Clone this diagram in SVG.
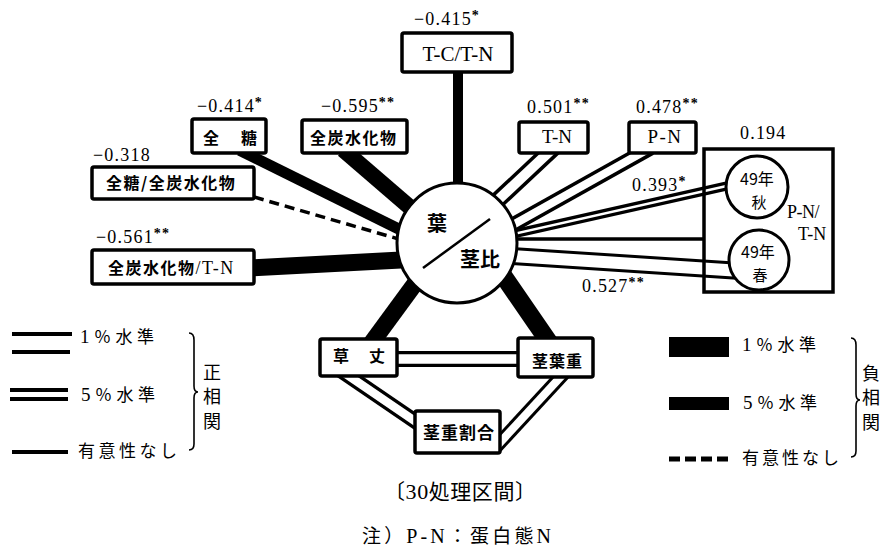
<svg xmlns="http://www.w3.org/2000/svg" width="887" height="549" viewBox="0 0 887 549">
<style>
.bx{fill:#fff;stroke:#000;stroke-width:3.5}
.cr{fill:#fff;stroke:#000;stroke-width:3}
.k{fill:none;stroke:#000}
.w{fill:none;stroke:#fff}
.num{font-family:"Liberation Serif",serif;font-size:18px;letter-spacing:1.2px;fill:#000}
.st{font-size:14px;font-weight:bold}
.jp{font-family:"Noto Sans CJK JP","Noto Sans CJK SC",sans-serif;font-weight:bold;fill:#000}
.jn{font-family:"Noto Sans CJK JP","Noto Sans CJK SC",sans-serif;font-weight:normal;fill:#000}
.lat{font-family:"Liberation Serif",serif;font-weight:normal}
.lg{font-family:"Noto Sans CJK JP","Noto Sans CJK SC",sans-serif;font-size:17px;fill:#000}
.vt{font-family:"Noto Sans CJK JP","Noto Sans CJK SC",sans-serif;font-size:18px;fill:#000;writing-mode:vertical-rl;letter-spacing:6.5px}
.brace{fill:none;stroke:#000;stroke-width:1.6}
</style>
<rect width="887" height="549" fill="#fff"/>

<g id="connectors">
  <!-- negative correlations (solid black) -->
  <line class="k" x1="458" y1="70" x2="458" y2="200" stroke-width="10"/>
  <line class="k" x1="239.6" y1="150.3" x2="415.4" y2="237.2" stroke-width="11"/>
  <line class="k" x1="343.2" y1="149.7" x2="418.9" y2="215" stroke-width="16"/>
  <line class="k" x1="250" y1="268" x2="420" y2="259" stroke-width="17"/>
  <line class="k" x1="254" y1="197" x2="402" y2="240" stroke-width="3.5" stroke-dasharray="10 6"/>
  <line class="k" x1="425" y1="270" x2="370" y2="345" stroke-width="17"/>
  <line class="k" x1="500" y1="271" x2="553" y2="348" stroke-width="18"/>
  <!-- positive correlations -->
  <line class="k" x1="500" y1="239" x2="704" y2="239" stroke-width="3.5"/>
  <line class="k" x1="555.3" y1="146.2" x2="493.3" y2="204.3" stroke-width="17"/>
  <line class="w" x1="555.3" y1="146.2" x2="493.3" y2="204.3" stroke-width="10"/>
  <line class="k" x1="650.2" y1="148.1" x2="510.5" y2="226.2" stroke-width="15"/>
  <line class="w" x1="650.2" y1="148.1" x2="510.5" y2="226.2" stroke-width="8"/>
  <line class="k" x1="500" y1="237" x2="740" y2="183" stroke-width="9"/>
  <line class="w" x1="500" y1="237" x2="740" y2="183" stroke-width="2.5"/>
  <line class="k" x1="500" y1="255.2" x2="745" y2="271.2" stroke-width="18"/>
  <line class="w" x1="500" y1="255.2" x2="745" y2="271.2" stroke-width="12"/>
  <line class="k" x1="390" y1="359" x2="525" y2="359" stroke-width="16"/>
  <line class="w" x1="390" y1="359" x2="525" y2="359" stroke-width="9.5"/>
  <line class="k" x1="340" y1="370" x2="425" y2="428" stroke-width="15"/>
  <line class="w" x1="340" y1="370" x2="425" y2="428" stroke-width="8.5"/>
  <line class="k" x1="567" y1="370" x2="495" y2="448" stroke-width="14"/>
  <line class="w" x1="567" y1="370" x2="495" y2="448" stroke-width="8"/>
</g>

<g id="n-tctn">
  <rect class="bx" x="402" y="33" width="110" height="39" rx="2"/>
  <text class="lat" x="458" y="61" font-size="21" text-anchor="middle">T-C/T-N</text>
  <text class="num" x="414" y="25">−0.415<tspan class="st" dy="-5">*</tspan></text>
</g>

<g id="n-zento">
  <rect class="bx" x="192" y="119" width="74" height="34" rx="2"/>
  <text class="jp" x="203" y="144" font-size="16" letter-spacing="3">全　糖</text>
  <text class="num" x="197" y="112">−0.414<tspan class="st" dy="-5">*</tspan></text>
</g>

<g id="n-zentan">
  <rect class="bx" x="302" y="120" width="105" height="33" rx="2"/>
  <text class="jp" x="310" y="144" font-size="16" letter-spacing="1.5">全炭水化物</text>
  <text class="num" x="321" y="112">−0.595<tspan class="st" dy="-5">**</tspan></text>
</g>

<g id="n-ratio1">
  <rect class="bx" x="92" y="167" width="162" height="32" rx="2"/>
  <text class="jp" x="106" y="189" font-size="16" letter-spacing="1.5">全糖/全炭水化物</text>
  <text class="num" x="93" y="161">−0.318</text>
</g>

<g id="n-ratio2">
  <rect class="bx" x="92" y="250" width="162" height="34" rx="2"/>
  <text class="jp" x="108" y="274" font-size="16" letter-spacing="1.5">全炭水化物<tspan class="lat" font-size="18">/T-N</tspan></text>
  <text class="num" x="96" y="243">−0.561<tspan class="st" dy="-5">**</tspan></text>
</g>

<g id="n-tn">
  <rect class="bx" x="519" y="122" width="69" height="31" rx="2"/>
  <text class="lat" x="557" y="143" font-size="19" text-anchor="middle">T-N</text>
  <text class="num" x="527" y="113">0.501<tspan class="st" dy="-5">**</tspan></text>
</g>

<g id="n-pn">
  <rect class="bx" x="629" y="122" width="67" height="31" rx="2"/>
  <text class="lat" x="665" y="143" font-size="19" text-anchor="middle" letter-spacing="1.5">P-N</text>
  <text class="num" x="636" y="113">0.478<tspan class="st" dy="-5">**</tspan></text>
</g>

<g id="n-pntn">
  <rect x="704" y="149" width="129" height="143" fill="none" stroke="#000" stroke-width="3.5"/>
  <text class="num" x="740" y="139">0.194</text>
  <text class="lat" font-size="18"><tspan x="787" y="218" letter-spacing="-0.5">P-N/</tspan><tspan x="798" y="240">T-N</tspan></text>
  <text class="num" x="632" y="191">0.393<tspan class="st" dy="-5">*</tspan></text>
  <text class="num" x="582" y="292">0.527<tspan class="st" dy="-5">**</tspan></text>
</g>

<g id="n-aki">
  <circle class="cr" cx="757" cy="187" r="31"/>
  <text class="jn" x="757" y="185" font-size="16" text-anchor="middle">49年</text>
  <text class="jn" x="759" y="208" font-size="15" text-anchor="middle">秋</text>
</g>

<g id="n-haru">
  <circle class="cr" cx="759" cy="260" r="30"/>
  <text class="jn" x="758" y="258" font-size="16" text-anchor="middle">49年</text>
  <text class="jn" x="760" y="281" font-size="15" text-anchor="middle">春</text>
</g>

<g id="n-center">
  <circle class="cr" cx="457" cy="243" r="60"/>
  <line x1="423" y1="268" x2="490" y2="219" stroke="#000" stroke-width="2.5"/>
  <text class="jp" x="437" y="231" font-size="20" text-anchor="middle">葉</text>
  <text class="jp" x="480" y="267" font-size="20" text-anchor="middle">茎比</text>
</g>

<g id="n-soujou">
  <rect class="bx" x="320" y="339" width="77" height="37" rx="2"/>
  <text class="jp" x="333" y="362" font-size="16" letter-spacing="2">草　丈</text>
</g>

<g id="n-keiyoju">
  <rect class="bx" x="518" y="338" width="75" height="39" rx="2"/>
  <text class="jp" x="532" y="367" font-size="16" letter-spacing="1">茎葉重</text>
</g>

<g id="n-keijuwariai">
  <rect class="bx" x="415" y="411" width="85" height="42" rx="2"/>
  <text class="jp" x="423" y="439" font-size="17" letter-spacing="1">茎重割合</text>
</g>

<g id="legend-positive">
  <line class="k" x1="12" y1="334" x2="72" y2="334" stroke-width="4"/>
  <line class="k" x1="12" y1="352" x2="70" y2="352" stroke-width="4"/>
  <line class="k" x1="10" y1="390" x2="68" y2="390" stroke-width="4"/>
  <line class="k" x1="10" y1="399" x2="68" y2="399" stroke-width="4"/>
  <line class="k" x1="12" y1="452" x2="68" y2="452" stroke-width="4"/>
  <text class="lg" x="80" y="343" letter-spacing="4.5"><tspan class="lat" font-size="19">1</tspan>％水準</text>
  <text class="lg" x="81" y="401" letter-spacing="4.5"><tspan class="lat" font-size="19">5</tspan>％水準</text>
  <text class="lg" x="78" y="457" letter-spacing="3.5">有意性なし</text>
  <path class="brace" d="M189 333 Q194 333 194 340 L194 386 Q194 392 198 392 Q194 392 194 398 L194 444 Q194 450 189 450"/>
  <text class="vt" x="212" y="363">正相関</text>
</g>

<g id="legend-negative">
  <rect x="669" y="337" width="60" height="20" fill="#000"/>
  <rect x="669" y="397" width="60" height="13" fill="#000"/>
  <line class="k" x1="669" y1="459" x2="730" y2="459" stroke-width="5" stroke-dasharray="11 5"/>
  <text class="lg" x="742" y="351" letter-spacing="4.5"><tspan class="lat" font-size="19">1</tspan>％水準</text>
  <text class="lg" x="743" y="409" letter-spacing="4.5"><tspan class="lat" font-size="19">5</tspan>％水準</text>
  <text class="lg" x="742" y="464" letter-spacing="3">有意性なし</text>
  <path class="brace" d="M851 338 Q856 338 856 345 L856 394 Q856 400 860 400 Q856 400 856 406 L856 451 Q856 457 851 457"/>
  <text class="vt" x="871" y="364">負相関</text>
</g>

<g id="captions">
  <text class="jn" x="384" y="499" font-size="21" textLength="152" lengthAdjust="spacing">〔<tspan class="lat" font-size="22">30</tspan>処理区間〕</text>
  <text class="jn" x="362" y="543" font-size="19" textLength="189" lengthAdjust="spacing">注）<tspan class="lat" font-size="20">P-N</tspan>：蛋白態<tspan class="lat" font-size="20">N</tspan></text>
</g>
</svg>
